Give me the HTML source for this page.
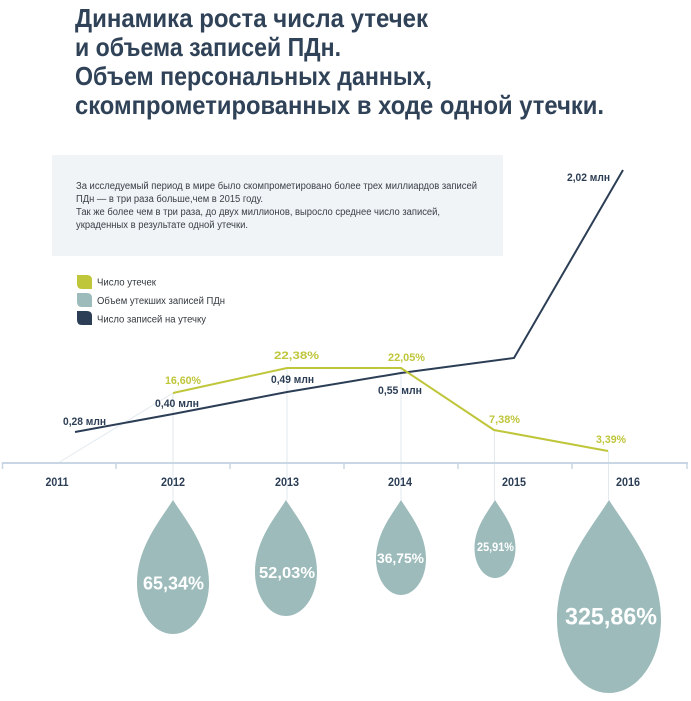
<!DOCTYPE html>
<html>
<head>
<meta charset="utf-8">
<style>
  html, body { margin:0; padding:0; background:#ffffff; }
  body { width:691px; height:701px; overflow:hidden; }
  svg { display:block; }
  .t { font-family:"Liberation Sans","Noto Sans CJK SC",sans-serif; }
</style>
</head>
<body>
<svg width="691" height="701" viewBox="0 0 691 701" xmlns="http://www.w3.org/2000/svg">
  <rect x="0" y="0" width="691" height="701" fill="#ffffff"/>

  <!-- Title -->
  <g class="t" font-weight="bold" font-size="26" fill="#2f4257">
    <text x="75" y="27" textLength="353" lengthAdjust="spacingAndGlyphs">Динамика роста числа утечек</text>
    <text x="75" y="56" textLength="266" lengthAdjust="spacingAndGlyphs">и объема записей ПДн.</text>
    <text x="75" y="85" textLength="357" lengthAdjust="spacingAndGlyphs">Объем персональных данных,</text>
    <text x="75" y="114" textLength="529" lengthAdjust="spacingAndGlyphs">скомпрометированных в ходе одной утечки.</text>
  </g>

  <!-- Info box -->
  <rect x="52" y="155" width="451" height="101" fill="#f0f4f7"/>
  <g class="t" font-size="10" fill="#3a4048">
    <text x="76" y="189" textLength="401" lengthAdjust="spacingAndGlyphs">За исследуемый период в мире было скомпрометировано более трех миллиардов записей</text>
    <text x="76" y="202" textLength="187" lengthAdjust="spacingAndGlyphs">ПДн — в три раза больше,чем в 2015 году.</text>
    <text x="76" y="215" textLength="364" lengthAdjust="spacingAndGlyphs">Так же более чем в три раза, до двух миллионов, выросло среднее число записей,</text>
    <text x="76" y="228" textLength="172" lengthAdjust="spacingAndGlyphs">украденных в результате одной утечки.</text>
  </g>

  <!-- Legend -->
  <path d="M77,275 H87 Q92,275 92,280 V289 H82 Q77,289 77,284 Z" fill="#bfc63a"/>
  <path d="M77,293 H87 Q92,293 92,298 V307 H82 Q77,307 77,302 Z" fill="#9dbbbb"/>
  <path d="M77,311 H87 Q92,311 92,316 V325 H82 Q77,325 77,320 Z" fill="#2c3e55"/>
  <g class="t" font-size="10" fill="#33393f">
    <text x="97" y="285.5" textLength="59" lengthAdjust="spacingAndGlyphs">Число утечек</text>
    <text x="97" y="304" textLength="128" lengthAdjust="spacingAndGlyphs">Объем утекших записей ПДн</text>
    <text x="97" y="322.5" textLength="109" lengthAdjust="spacingAndGlyphs">Число записей на утечку</text>
  </g>

  <!-- Light guide lines -->
  <g stroke="#e3eaef" stroke-width="1" fill="none">
    <line x1="58" y1="463" x2="173" y2="393"/>
    <line x1="173" y1="393" x2="173" y2="500"/>
    <line x1="287" y1="368" x2="287" y2="500"/>
    <line x1="401" y1="368" x2="401" y2="500"/>
    <line x1="494.5" y1="430" x2="494.5" y2="500"/>
    <line x1="608.5" y1="451" x2="608.5" y2="500"/>
  </g>

  <!-- Axis -->
  <line x1="2" y1="463" x2="688" y2="463" stroke="#c8d7e3" stroke-width="2"/>
  <g stroke="#c8d7e3" stroke-width="1.5">
    <line x1="2.5" y1="462" x2="2.5" y2="469"/>
    <line x1="116" y1="462" x2="116" y2="469"/>
    <line x1="230" y1="462" x2="230" y2="469"/>
    <line x1="344" y1="462" x2="344" y2="469"/>
    <line x1="458" y1="462" x2="458" y2="469"/>
    <line x1="572" y1="462" x2="572" y2="469"/>
    <line x1="687" y1="462" x2="687" y2="469"/>
  </g>
  <g class="t" font-weight="bold" font-size="12" fill="#2c3e55" text-anchor="middle">
    <text x="57" y="486" textLength="23" lengthAdjust="spacingAndGlyphs">2011</text>
    <text x="173" y="486" textLength="24" lengthAdjust="spacingAndGlyphs">2012</text>
    <text x="287" y="486" textLength="24" lengthAdjust="spacingAndGlyphs">2013</text>
    <text x="400" y="486" textLength="24" lengthAdjust="spacingAndGlyphs">2014</text>
    <text x="514" y="486" textLength="24" lengthAdjust="spacingAndGlyphs">2015</text>
    <text x="628" y="486" textLength="24" lengthAdjust="spacingAndGlyphs">2016</text>
  </g>

  <!-- Series lines -->
  <polyline points="75,432 173,414 287,392 401,373 514,358 623,170" fill="none" stroke="#2c3e55" stroke-width="2" stroke-linejoin="miter"/>
  <polyline points="173,393 287,368 401,368 494,430 608,451" fill="none" stroke="#bfc63a" stroke-width="2"/>

  <!-- Data labels -->
  <g class="t" font-weight="bold" font-size="11">
    <text x="63" y="425" fill="#2c3e55" textLength="43" lengthAdjust="spacingAndGlyphs">0,28 млн</text>
    <text x="155" y="407" fill="#2c3e55" textLength="44" lengthAdjust="spacingAndGlyphs">0,40 млн</text>
    <text x="271" y="383" fill="#2c3e55" textLength="43" lengthAdjust="spacingAndGlyphs">0,49 млн</text>
    <text x="378" y="394" fill="#2c3e55" textLength="44" lengthAdjust="spacingAndGlyphs">0,55 млн</text>
    <text x="567" y="181" fill="#2c3e55" textLength="43" lengthAdjust="spacingAndGlyphs">2,02 млн</text>
    <text x="165" y="384" fill="#bfc63a" textLength="36" lengthAdjust="spacingAndGlyphs">16,60%</text>
    <text x="274" y="359" fill="#bfc63a" textLength="45" lengthAdjust="spacingAndGlyphs">22,38%</text>
    <text x="388" y="361" fill="#bfc63a" textLength="37" lengthAdjust="spacingAndGlyphs">22,05%</text>
    <text x="489" y="423" fill="#bfc63a" textLength="31" lengthAdjust="spacingAndGlyphs">7,38%</text>
    <text x="596" y="443" fill="#bfc63a" textLength="30" lengthAdjust="spacingAndGlyphs">3,39%</text>
  </g>

  <!-- Drops -->
  <g fill="#9dbbbb">
    <path d="M173,500 C185.6,520.1 209,546.9 209,583 C209,611.2 192.9,634 173,634 C153.1,634 137,611.2 137,583 C137,546.9 160.4,520.1 173,500 Z"/>
    <path d="M286,500 C296.85,517.4 317,540.6 317,571.9 C317,596.2 303.1,616 286,616 C268.9,616 255,596.2 255,571.9 C255,540.6 275.15,517.4 286,500 Z"/>
    <path d="M401,500 C409.75,514.25 426,533.25 426,558.9 C426,578.8 414.8,595 401,595 C387.2,595 376,578.8 376,558.9 C376,533.25 392.25,514.25 401,500 Z"/>
    <path d="M495,500 C502.2,511.7 515.5,527.3 515.5,548.4 C515.5,564.7 506.3,578 495,578 C483.7,578 474.5,564.7 474.5,548.4 C474.5,527.3 487.8,511.7 495,500 Z"/>
    <path d="M609,500 C627.2,528.95 661,567.55 661,619.7 C661,660.2 637.7,693 609,693 C580.3,693 557,660.2 557,619.7 C557,567.55 590.8,528.95 609,500 Z"/>
  </g>
  <g class="t" font-weight="bold" fill="#ffffff" text-anchor="middle">
    <text x="173.5" y="589.5" font-size="18" textLength="61" lengthAdjust="spacingAndGlyphs">65,34%</text>
    <text x="287" y="578" font-size="16" textLength="56" lengthAdjust="spacingAndGlyphs">52,03%</text>
    <text x="400.5" y="563" font-size="14" textLength="47" lengthAdjust="spacingAndGlyphs">36,75%</text>
    <text x="495.5" y="551" font-size="11.5" textLength="37" lengthAdjust="spacingAndGlyphs">25,91%</text>
    <text x="611" y="624.5" font-size="24" textLength="92" lengthAdjust="spacingAndGlyphs">325,86%</text>
  </g>
</svg>
</body>
</html>
